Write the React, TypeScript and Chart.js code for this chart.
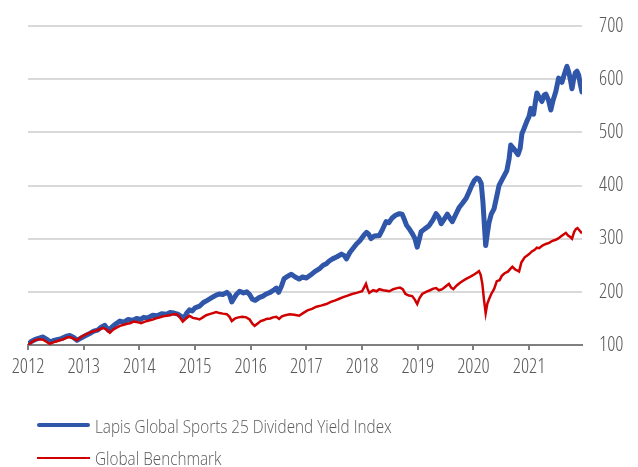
import React, { useEffect, useRef } from "react";
import { Chart, registerables } from "chart.js";

Chart.register(...registerables);

const lapisDates = [
  2012.0, 2012.05, 2012.12, 2012.2, 2012.27, 2012.33, 2012.4, 2012.45, 2012.52, 2012.6, 2012.68, 2012.75, 2012.82, 2012.88, 2012.95,
  2013.02, 2013.1, 2013.18, 2013.25, 2013.32, 2013.38, 2013.44, 2013.5, 2013.58, 2013.65, 2013.72, 2013.8, 2013.88, 2013.95,
  2014.02, 2014.08, 2014.15, 2014.24, 2014.32, 2014.4, 2014.49, 2014.55, 2014.62, 2014.69, 2014.75, 2014.8, 2014.85, 2014.9, 2014.95,
  2015.0, 2015.08, 2015.15, 2015.22, 2015.3, 2015.38, 2015.44, 2015.5, 2015.57, 2015.62, 2015.66, 2015.7, 2015.75, 2015.8, 2015.87, 2015.93, 2015.98,
  2016.03, 2016.08, 2016.15, 2016.22, 2016.28, 2016.35, 2016.42, 2016.46, 2016.5, 2016.55, 2016.6, 2016.66, 2016.73, 2016.8, 2016.87, 2016.93,
  2017.0, 2017.08, 2017.15, 2017.23, 2017.3, 2017.36, 2017.41, 2017.47, 2017.55, 2017.63, 2017.68, 2017.72, 2017.78, 2017.84, 2017.9, 2017.96,
  2018.03, 2018.08, 2018.12, 2018.16, 2018.22, 2018.31, 2018.37, 2018.43, 2018.48, 2018.54, 2018.6, 2018.67, 2018.72, 2018.76, 2018.8, 2018.85, 2018.9, 2018.95, 2018.99,
  2019.03, 2019.06, 2019.12, 2019.2, 2019.27, 2019.33, 2019.38, 2019.42, 2019.47, 2019.53, 2019.58, 2019.62, 2019.68, 2019.74, 2019.8, 2019.87, 2019.92, 2019.97,
  2020.02, 2020.06, 2020.1, 2020.14, 2020.17, 2020.2, 2020.22, 2020.25, 2020.28, 2020.32, 2020.37, 2020.42, 2020.46, 2020.51, 2020.56, 2020.6, 2020.64, 2020.67, 2020.72, 2020.76, 2020.8, 2020.84, 2020.87, 2020.92, 2020.96,
  2021.0, 2021.03, 2021.06, 2021.08, 2021.11, 2021.14, 2021.18, 2021.23, 2021.27, 2021.3, 2021.35, 2021.39, 2021.43, 2021.48, 2021.53, 2021.56, 2021.59, 2021.62, 2021.66, 2021.68, 2021.71, 2021.74, 2021.77, 2021.8, 2021.83, 2021.86, 2021.89, 2021.92, 2021.95,
];
const lapisValues = [
  100, 106, 110, 113, 115, 111, 106, 108, 110, 112, 116, 118, 114, 109, 113,
  117, 121, 126, 128, 134, 137, 128, 133, 140, 145, 143, 148, 146, 150,
  148, 152, 151, 156, 155, 159, 158, 161, 160, 158, 154, 150, 160, 166, 164,
  170, 173, 180, 184, 189, 194, 196, 195, 199, 194, 181, 188, 196, 201, 198, 200, 195,
  186, 184, 189, 192, 196, 199, 204, 207, 199, 210, 225, 229, 233, 228, 224, 228,
  226, 232, 238, 243, 250, 253, 258, 262, 266, 271, 268, 262, 274, 282, 290, 296,
  306, 312, 308, 300, 305, 306, 318, 332, 330, 339, 344, 347, 346, 336, 325, 318, 310, 300, 284,
  300, 313, 318, 324, 335, 347, 340, 328, 336, 346, 338, 332, 345, 358, 366, 376, 388, 400,
  410, 414, 412, 404, 370, 320, 287, 310, 330, 346, 356, 380, 400, 410, 420, 428, 450, 476, 470, 464, 458, 470, 497, 510, 521,
  530, 545, 538, 534, 555, 574, 566, 558, 570, 572, 560, 542, 560, 577, 602, 598, 594, 605, 618, 624, 614, 600, 582, 600, 612, 615, 608, 590, 576,
];

const benchDates = [
  2012.0, 2012.06, 2012.13, 2012.2, 2012.27, 2012.33, 2012.39, 2012.45, 2012.52, 2012.57, 2012.64, 2012.7, 2012.75, 2012.82, 2012.88, 2012.95,
  2013.02, 2013.08, 2013.15, 2013.22, 2013.3, 2013.35, 2013.41, 2013.47, 2013.53, 2013.6, 2013.65, 2013.72, 2013.78, 2013.83, 2013.9, 2013.97,
  2014.03, 2014.1, 2014.17, 2014.24, 2014.3, 2014.37, 2014.43, 2014.49, 2014.55, 2014.61, 2014.67, 2014.72, 2014.78, 2014.84, 2014.9, 2014.96,
  2015.02, 2015.08, 2015.14, 2015.2, 2015.26, 2015.32, 2015.38, 2015.44, 2015.5, 2015.57, 2015.62, 2015.66, 2015.72, 2015.78, 2015.85, 2015.92, 2015.98,
  2016.03, 2016.07, 2016.12, 2016.18, 2016.24, 2016.28, 2016.35, 2016.4, 2016.46, 2016.51, 2016.56, 2016.62, 2016.7, 2016.78, 2016.87, 2016.94,
  2017.02, 2017.1, 2017.18, 2017.26, 2017.36, 2017.44, 2017.52, 2017.59, 2017.66, 2017.74, 2017.82, 2017.9,
  2018.0, 2018.04, 2018.07, 2018.1, 2018.13, 2018.2, 2018.26, 2018.31, 2018.38, 2018.44, 2018.49, 2018.56, 2018.63, 2018.68, 2018.73, 2018.78, 2018.84, 2018.9, 2018.95, 2018.99,
  2019.03, 2019.08, 2019.15, 2019.22, 2019.28, 2019.33, 2019.38, 2019.44, 2019.5, 2019.56, 2019.6, 2019.64, 2019.7, 2019.76, 2019.8, 2019.86, 2019.92, 2019.97,
  2020.02, 2020.06, 2020.1, 2020.13, 2020.16, 2020.19, 2020.22, 2020.25, 2020.28, 2020.32, 2020.37, 2020.42, 2020.47, 2020.51, 2020.56, 2020.62, 2020.67, 2020.7, 2020.75, 2020.79, 2020.82, 2020.86, 2020.92, 2020.96,
  2021.0, 2021.05, 2021.1, 2021.14, 2021.18, 2021.24, 2021.3, 2021.36, 2021.42, 2021.48, 2021.53, 2021.58, 2021.62, 2021.66, 2021.7, 2021.74, 2021.77, 2021.81, 2021.84, 2021.87, 2021.91, 2021.95,
];
const benchValues = [
  100, 105, 109, 111, 110, 106, 102, 105, 107, 109, 111, 114, 115, 112, 109, 115,
  119, 122, 125, 127, 130, 132, 129, 123, 129, 133, 136, 138, 140, 141, 144, 143,
  141, 144, 146, 148, 150, 152, 154, 155, 156, 158, 158, 153, 144, 150, 155, 151,
  150, 148, 152, 156, 158, 160, 162, 160, 159, 158, 153, 145, 150, 152, 153, 152, 148,
  140, 136, 140, 145, 147, 149, 150, 152, 153, 149, 154, 156, 158, 157, 155, 160,
  165, 168, 172, 174, 177, 181, 184, 187, 190, 193, 196, 198,
  201, 209, 215, 205, 198, 203, 201, 205, 203, 202, 201, 205, 207, 208, 205, 196, 193, 192, 185, 177,
  188, 196, 200, 203, 206, 207, 203, 205, 210, 215, 208, 205, 212, 217, 220, 224, 227, 230,
  233, 236, 239, 232, 215, 185, 160, 178, 186, 196, 205, 220, 222, 230, 235, 238, 244, 247, 242, 240, 238, 255, 265, 268,
  271, 276, 279, 283, 282, 287, 290, 292, 296, 298, 301, 305, 308, 311, 306, 303, 300, 313, 318, 320, 315, 310,
];

const xTickYears = [2012, 2013, 2014, 2015, 2016, 2017, 2018, 2019, 2020, 2021];
const yTickValues = [100, 200, 300, 400, 500, 600, 700];

const seriesNames = ["Lapis Global Sports 25 Dividend Yield Index", "Global Benchmark"];

const BLUE = "#2f56a9";
const RED = "#d00000";
const TEXT = "#595959";
const FAMILY = '"Open Sans", sans-serif';
const WEIGHT = "300 condensed";

export default function App() {
  const ref = useRef<HTMLCanvasElement>(null);

  useEffect(() => {
    document.body.style.margin = "0";
    const chart = new Chart(ref.current!, {
      type: "line",
      data: {
        datasets: [
          {
            label: seriesNames[1],
            data: benchDates.map((d, i) => ({ x: d, y: benchValues[i] })),
            borderColor: RED,
            borderWidth: 2.5,
            pointRadius: 0,
            tension: 0,
            order: 0,
          },
          {
            label: seriesNames[0],
            data: lapisDates.map((d, i) => ({ x: d, y: lapisValues[i] })),
            borderColor: BLUE,
            borderWidth: 5,
            pointRadius: 0,
            tension: 0,
            borderCapStyle: "round",
            borderJoinStyle: "round",
            order: 1,
          },
        ],
      },
      options: {
        animation: false,
        responsive: false,
        maintainAspectRatio: false,
        layout: { padding: { left: 28, right: 0, top: 26, bottom: 83 } },
        plugins: { legend: { display: false }, tooltip: { enabled: false } },
        scales: {
          x: {
            type: "linear",
            min: 2012,
            max: 2021.95,
            afterBuildTicks: (s: any) => {
              s.ticks = xTickYears.map((v) => ({ value: v }));
            },
            ticks: {
              callback: (v: any) => String(v),
              font: { family: FAMILY, size: 20, weight: WEIGHT as any },
              color: TEXT,
              padding: 5,
              maxRotation: 0,
              autoSkip: false,
            },
            grid: { drawOnChartArea: false, drawTicks: true, tickLength: 5, color: "#7f7f7f", lineWidth: 2 },
            border: { display: true, color: "#7f7f7f", width: 2 },
          },
          y: {
            position: "right",
            min: 100,
            max: 700,
            afterBuildTicks: (s: any) => {
              s.ticks = yTickValues.map((v) => ({ value: v }));
            },
            afterFit: (s: any) => {
              s.width = 56;
            },
            ticks: {
              font: { family: FAMILY, size: 20, weight: WEIGHT as any, lineHeight: 0.8 },
              color: TEXT,
              padding: 17,
            },
            grid: {
              color: (ctx: any) => (ctx.tick && ctx.tick.value === 100 ? "rgba(0,0,0,0)" : "#d9d9d9"),
              lineWidth: 2,
              drawTicks: false,
            },
            border: { display: false },
          },
        },
      },
    });
    return () => chart.destroy();
  }, []);

  const legendText: React.CSSProperties = {
    position: "absolute",
    left: 95,
    height: 22,
    lineHeight: "22px",
    fontFamily: FAMILY,
    fontWeight: 300,
    fontSize: 18,
    color: TEXT,
    whiteSpace: "nowrap",
    transform: "scaleX(0.85)",
    transformOrigin: "0 50%",
  };

  return (
    <div style={{ position: "relative", width: 638, height: 467 }}>
      <canvas ref={ref} width={638} height={467} style={{ display: "block", width: 638, height: 467 }} />
      <div style={{ position: "absolute", left: 37, top: 423, width: 53, height: 4, background: BLUE, borderRadius: 2 }} />
      <div style={{ ...legendText, top: 415 }}>{seriesNames[0]}</div>
      <div style={{ position: "absolute", left: 37, top: 457, width: 53, height: 2, background: RED }} />
      <div style={{ ...legendText, top: 447 }}>{seriesNames[1]}</div>
    </div>
  );
}
